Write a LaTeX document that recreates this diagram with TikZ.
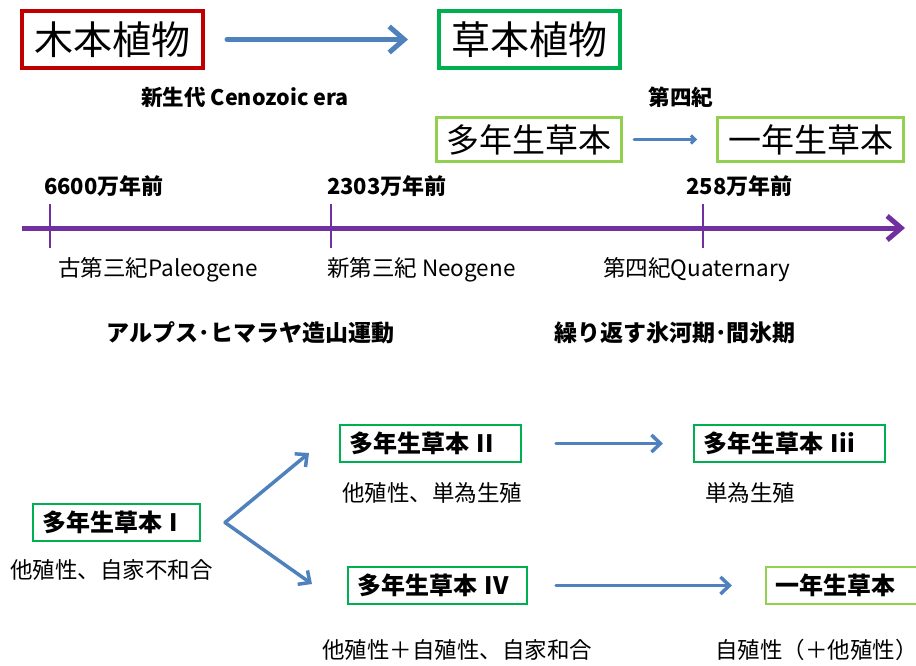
\documentclass[tikz,border=0pt]{standalone}
\usepackage{fontspec}
\setmainfont{Noto Sans CJK JP}
\usetikzlibrary{arrows.meta,positioning}
\usepackage{xcolor}
\definecolor{woodred}{HTML}{C00000}
\definecolor{herbgreen}{HTML}{00B050}
\definecolor{limegreen}{HTML}{92D050}
\definecolor{flowblue}{HTML}{4F81BD}
\definecolor{erapurple}{HTML}{7030A0}
\newcommand{\fsz}[1]{\fontsize{#1}{#1}\selectfont}

\begin{document}
\begin{tikzpicture}[x=1pt, y=-1pt,
    bigbox/.style={draw, line width=4pt, minimum width=181pt, minimum height=57pt, inner sep=0pt, font=\fsz{39}},
    midbox/.style={draw=limegreen, line width=3pt, minimum height=44pt, inner sep=0pt, font=\fsz{33}},
    smallbox/.style={draw=herbgreen, line width=2pt, minimum height=37pt, inner xsep=9pt, inner ysep=0pt, anchor=west, align=left, font=\fsz{24}\bfseries},
    note/.style={inner sep=0pt, anchor=west, font=\fsz{22.5}},
    flow/.style={draw=flowblue, line width=3.5pt, line cap=round, -{Straight Barb[length=9pt,width=17pt]}},
    era/.style={draw=erapurple, line width=5pt, -{Straight Barb[length=14pt,width=24pt]}},
    tick/.style={draw=erapurple, line width=2.5pt}]
    \useasboundingbox (0,0) rectangle (916,665);

    % Woody to herbaceous
    \node[bigbox, draw=woodred] (wood) at (112.5,39.5) {木本植物};
    \node[bigbox, draw=herbgreen] (herb) at (529.5,39.5) {草本植物};
    \draw[flow, line width=5pt, -{Straight Barb[length=15pt,width=26pt]}, shorten <=22pt, shorten >=29pt] (wood) -- (herb);

    \node[font=\fsz{21.5}\bfseries] (cenozoic) at (245,97) {新生代 Cenozoic era};
    \node[font=\fsz{21.5}\bfseries] (quattop) at (681,97) {第四紀};

    % Perennial to annual
    \node[midbox, minimum width=185pt] (perA) at (529,139.5) {多年生草本};
    \node[midbox, minimum width=186pt] (annA) at (810.5,139.5) {一年生草本};
    \draw[flow, line width=3pt, -{Straight Barb[length=4pt,width=8pt]}, shorten <=11pt, shorten >=19pt] (perA) -- (annA);

    % Time axis
    \coordinate (tlstart) at (22,228);
    \coordinate (tlend) at (905,228);
    \draw[era] (tlstart) -- (tlend);
    \foreach \x in {50,331,703} {
        \draw[tick] (\x,204) -- (\x,248);
    }

    \node[note, font=\fsz{22}\bfseries] (ma66) at (44,186) {6600万年前};
    \node[note, font=\fsz{22}\bfseries] (ma23) at (327,186) {2303万年前};
    \node[note, font=\fsz{22}\bfseries] (ma2) at (686,186) {258万年前};

    \node[note, font=\fsz{22.5}] (paleo) at (58,270) {古第三紀Paleogene};
    \node[note, font=\fsz{22.5}] (neo) at (327,270) {新第三紀 Neogene};
    \node[note, font=\fsz{22.5}] (quat) at (603,270) {第四紀Quaternary};

    \node[font=\fsz{23}\bfseries] (orogeny) at (250.5,333) {アルプス･ヒマラヤ造山運動};
    \node[font=\fsz{23}\bfseries] (glacial) at (675,333) {繰り返す氷河期･間氷期};

    % Lineages
    \node[smallbox, text width=149pt] (p1) at (32,522.5) {多年生草本 I};
    \node[note] (d1) at (10,570) {他殖性、自家不和合};
    \node[smallbox, text width=163pt] (p2) at (339,443.5) {多年生草本 II};
    \node[note] (d2) at (342,493) {他殖性、単為生殖};
    \node[smallbox, text width=173pt] (p3) at (693,443.5) {多年生草本 Iii};
    \node[note] (d3) at (705,493) {単為生殖};
    \node[smallbox, text width=161pt] (p4) at (347,585.5) {多年生草本 IV};
    \node[note] (d4) at (322,650) {他殖性＋自殖性、自家和合};
    \node[smallbox, draw=limegreen, text width=180pt] (a2) at (765,585.5) {一年生草本};
    \node[note] (d5) at (715,650) {自殖性（＋他殖性）};

    \coordinate (fork) at ([xshift=24pt]p1.east);
    \coordinate (forkup) at (309,453);
    \coordinate (forkdown) at (312,584);
    \draw[flow] (fork) -- (forkup);
    \draw[flow] (fork) -- (forkdown);
    \draw[flow, shorten <=34pt, shorten >=30pt] (p2) -- (p3);
    \draw[flow, shorten <=28pt, shorten >=33pt] (p4) -- (a2);
\end{tikzpicture}
\end{document}
